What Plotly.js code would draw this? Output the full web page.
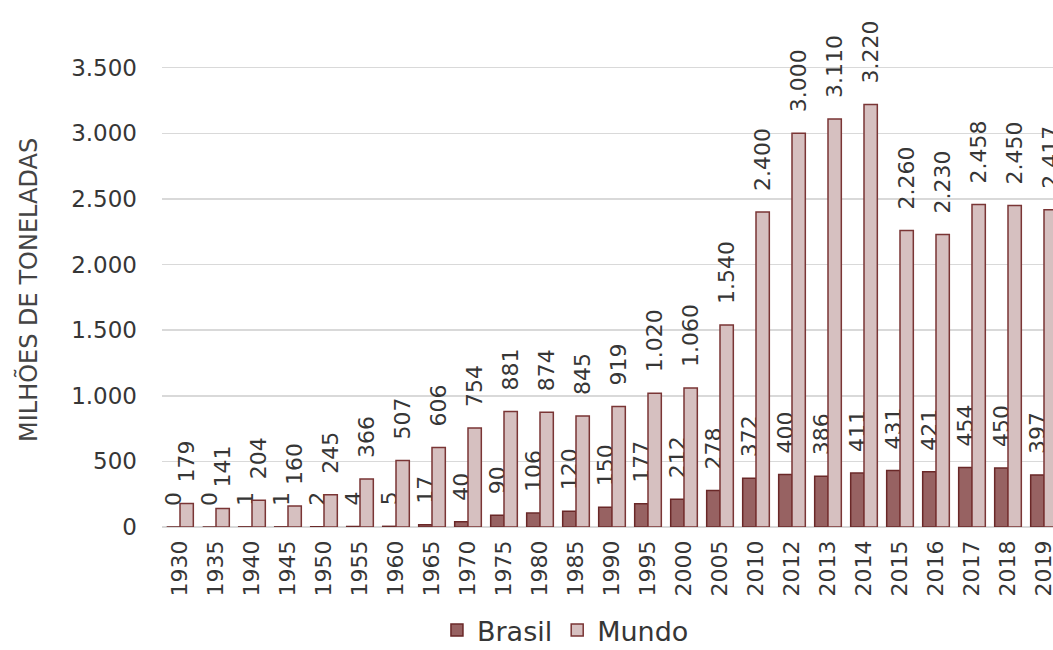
<!DOCTYPE html>
<html>
<head>
<meta charset="utf-8">
<script src="https://cdn.plot.ly/plotly-3.0.1.min.js"></script>
<style>html,body{margin:0;padding:0;background:#fff;}#chart{width:1053px;height:650px;}</style>
</head>
<body>
<div id="chart"></div>
<script>
var years = ["1930","1935","1940","1945","1950","1955","1960","1965","1970","1975","1980","1985","1990","1995","2000","2005","2010","2012","2013","2014","2015","2016","2017","2018","2019"];
var brasil = [0,0,1,1,2,4,5,17,40,90,106,120,150,177,212,278,372,400,386,411,431,421,454,450,397];
var mundo = [179,141,204,160,245,366,507,606,754,881,874,845,919,1020,1060,1540,2400,3000,3110,3220,2260,2230,2458,2450,2417];
var yTicks = [0,500,1000,1500,2000,2500,3000,3500];

var FONT = "'DejaVu Sans', Verdana, sans-serif";
var TXT = "#363636";

var common = {
  type: "bar",
  x: years,
  texttemplate: "\u2002\u00a0%{y:,.0f}",
  textposition: "outside",
  textangle: -90,
  cliponaxis: false,
  constraintext: "none",
  textfont: {family: FONT, size: 22, color: TXT},
  hoverinfo: "x+y"
};

var t1 = Object.assign({}, common, {
  name: "Brasil",
  y: brasil,
  marker: {color: "#976262", line: {color: "#6a2828", width: 1.5}}
});
var t2 = Object.assign({}, common, {
  name: "Mundo",
  y: mundo,
  marker: {color: "#d6c0c0", line: {color: "#7a3535", width: 1.5}}
});

var layout = {
  width: 1053, height: 650,
  margin: {l: 162, r: 0, t: 10, b: 123},
  paper_bgcolor: "#ffffff",
  plot_bgcolor: "#ffffff",
  separators: ",.",
  barmode: "group",
  bargap: 0.26,
  bargroupgap: 0,
  showlegend: true,
  legend: {
    orientation: "h",
    xref: "container", yref: "container",
    x: 0.537, xanchor: "center",
    y: 0.03, yanchor: "middle",
    font: {family: FONT, size: 27, color: TXT},
    itemwidth: 30,
    traceorder: "normal"
  },
  xaxis: {
    type: "category",
    range: [-0.5, 24.25],
    tickangle: -90,
    tickfont: {family: FONT, size: 22, color: TXT},
    showgrid: false,
    zeroline: false,
    showline: false,
    ticks: "",
    ticklabelstandoff: 8,
    fixedrange: true
  },
  yaxis: {
    range: [0, 3940],
    tickvals: yTicks,
    tickformat: ",.0f",
    tickfont: {family: FONT, size: 23, color: TXT},
    showgrid: true,
    gridcolor: "#d9d9d9",
    gridwidth: 1.5,
    zeroline: true,
    zerolinecolor: "#d9d9d9",
    zerolinewidth: 1.5,
    showline: false,
    ticks: "",
    ticklabelstandoff: 24,
    fixedrange: true
  },
  annotations: [{
    text: "MILHÕES DE TONELADAS",
    textangle: -90,
    xref: "paper", yref: "paper",
    x: (28 - 162) / 891, y: (527 - 290) / 517,
    xanchor: "center", yanchor: "middle",
    showarrow: false,
    font: {family: FONT, size: 24, color: "#444444"}
  }]
};

Plotly.newPlot("chart", [t1, t2], layout, {displayModeBar: false, staticPlot: true});
</script>
</body>
</html>
